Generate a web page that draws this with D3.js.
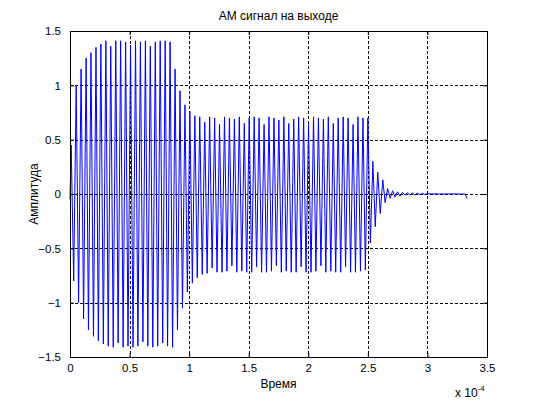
<!DOCTYPE html>
<html>
<head>
<meta charset="utf-8">
<script src="https://cdn.jsdelivr.net/npm/d3@7"></script>
<style>
  body { margin: 0; background: #fff; }
  svg { display: block; font-family: "Liberation Sans", Arial, sans-serif; }
</style>
</head>
<body>
<svg width="538" height="403"></svg>
<script>
// turning points of the output signal, [time in microseconds, amplitude]
var onsetPeaks = [
  [0, -0.05], [1.0, 0.45], [3.1, -0.80], [5.2, 1.0], [7.2, -1.0], [9.3, 1.15],
  [11.4, -1.15], [13.5, 1.25], [15.5, -1.25], [17.6, 1.30], [19.7, -1.31],
  [21.8, 1.35], [23.8, -1.35], [25.9, 1.38], [28.0, -1.38]
];

var highPeaks = [
  [30.1, 1.41], [32.1, -1.40], [34.2, 1.36], [36.3, -1.41], [38.4, 1.41], [40.4, -1.37],
  [42.5, 1.41], [44.6, -1.41], [46.7, 1.40], [48.7, -1.40], [50.8, 1.37], [52.9, -1.41],
  [55.0, 1.41], [57.0, -1.40], [59.1, 1.40], [61.2, -1.36], [63.3, 1.41], [65.3, -1.40],
  [67.4, 1.36], [69.5, -1.41], [71.6, 1.40], [73.6, -1.40], [75.7, 1.41], [77.8, -1.37],
  [79.9, 1.41], [81.9, -1.40], [84.0, 1.40], [86.1, -1.41]
];

var dropPeaks = [
  [88.2, 1.15], [90.2, -1.25], [92.3, 0.95], [94.4, -1.05], [96.5, 0.82], [98.5, -0.90],
  [100.6, 0.76], [102.7, -0.82], [104.8, 0.72], [106.8, -0.77]
];

var lowPeaks = [
  [108.9, 0.71], [111.0, -0.74], [113.1, 0.66], [115.1, -0.73], [117.2, 0.71], [119.3, -0.68],
  [121.4, 0.70], [123.4, -0.72], [125.5, 0.64], [127.6, -0.72], [129.7, 0.71], [131.7, -0.71],
  [133.8, 0.70], [135.9, -0.66], [138.0, 0.69], [140.0, -0.72], [142.1, 0.71], [144.2, -0.71],
  [146.3, 0.65], [148.3, -0.72], [150.4, 0.70], [152.5, -0.72], [154.6, 0.71], [156.6, -0.67],
  [158.7, 0.70], [160.8, -0.72], [162.9, 0.64], [164.9, -0.72], [167.0, 0.71], [169.1, -0.71],
  [171.2, 0.70], [173.2, -0.66], [175.3, 0.68], [177.4, -0.72], [179.5, 0.71], [181.5, -0.71],
  [183.6, 0.65], [185.7, -0.72], [187.8, 0.69], [189.8, -0.72], [191.9, 0.71], [194.0, -0.67],
  [196.1, 0.70], [198.1, -0.72], [200.2, 0.64], [202.3, -0.72], [204.4, 0.71], [206.4, -0.71],
  [208.5, 0.70], [210.6, -0.66], [212.7, 0.69], [214.7, -0.72], [216.8, 0.71], [218.9, -0.71],
  [221.0, 0.65], [223.0, -0.72], [225.1, 0.70], [227.2, -0.72], [229.3, 0.71], [231.3, -0.67],
  [233.4, 0.70], [235.5, -0.72], [237.6, 0.64], [239.6, -0.72], [241.7, 0.71], [243.8, -0.71],
  [245.9, 0.70], [247.9, -0.70], [250.0, 0.70]
];

var tailPeaks = [
  [252.1, -0.45], [254.2, 0.30], [256.2, -0.30], [258.3, 0.20], [260.4, -0.18], [262.5, 0.13],
  [264.5, -0.08], [266.6, 0.05], [268.7, -0.04], [270.8, 0.03], [272.8, -0.03], [274.9, 0.02],
  [277.0, -0.02], [279.1, 0.015], [281.1, -0.01], [283.2, 0.012], [285.3, -0.01], [287.4, 0.01],
  [289.4, -0.008], [291.5, 0.008], [293.6, -0.006], [295.7, 0.005], [297.7, -0.004], [299.8, 0.002],
  [310.0, 0], [320.0, 0.001], [331.5, 0], [333.2, -0.04]
];

var xTicks = [0, 0.5e-4, 1e-4, 1.5e-4, 2e-4, 2.5e-4, 3e-4, 3.5e-4];
var yTicks = [-1.5, -1, -0.5, 0, 0.5, 1, 1.5];

var titleText = "АМ сигнал на выходе",
    xLabel = "Время",
    yLabel = "Амплитуда";

var svg = d3.select("svg"),
    plotL = 70, plotR = 487, plotT = 31, plotB = 357;

var x = d3.scaleLinear().domain([0, 3.5e-4]).range([plotL, plotR]);
var y = d3.scaleLinear().domain([-1.5, 1.5]).range([plotB, plotT]);

var signal = onsetPeaks.concat(highPeaks, dropPeaks, lowPeaks, tailPeaks);

// grid
var grid = svg.append("g")
    .attr("stroke", "#000")
    .attr("stroke-width", 1)
    .attr("stroke-dasharray", "3,2")
    .attr("shape-rendering", "crispEdges");

grid.selectAll(".gx")
    .data(xTicks.slice(1, -1))
    .enter().append("line")
    .attr("x1", function (d) { return Math.round(x(d)) + 0.5; })
    .attr("x2", function (d) { return Math.round(x(d)) + 0.5; })
    .attr("y1", plotT)
    .attr("y2", plotB);

grid.selectAll(".gy")
    .data(yTicks.slice(1, -1))
    .enter().append("line")
    .attr("y1", function (d) { return Math.round(y(d)) + 0.5; })
    .attr("y2", function (d) { return Math.round(y(d)) + 0.5; })
    .attr("x1", plotL)
    .attr("x2", plotR);

// the signal
var line = d3.line()
    .x(function (d) { return x(d[0] * 1e-6); })
    .y(function (d) { return y(d[1]); });

svg.append("path")
    .datum(signal)
    .attr("fill", "none")
    .attr("stroke", "#0000ff")
    .attr("stroke-width", 1)
    .attr("d", line);

// axes, ticks pointing inward on all four sides
var fmtX = function (d) { return d3.format("~g")(+(d / 1e-4).toFixed(2)); };

svg.append("g")
    .attr("transform", "translate(0," + plotB + ")")
    .call(d3.axisBottom(x).tickValues(xTicks).tickSizeInner(-4).tickSizeOuter(0).tickPadding(7).tickFormat(fmtX));

svg.append("g")
    .attr("transform", "translate(0," + plotT + ")")
    .call(d3.axisTop(x).tickValues(xTicks).tickSizeInner(-4).tickSizeOuter(0).tickFormat(""));

svg.append("g")
    .attr("transform", "translate(" + plotL + ",0)")
    .call(d3.axisLeft(y).tickValues(yTicks).tickSizeInner(-4).tickSizeOuter(0).tickPadding(9).tickFormat(d3.format("~g")));

svg.append("g")
    .attr("transform", "translate(" + plotR + ",0)")
    .call(d3.axisRight(y).tickValues(yTicks).tickSizeInner(-4).tickSizeOuter(0).tickFormat(""));

svg.selectAll(".domain").remove();
svg.selectAll(".tick text")
    .attr("font-size", 11.5)
    .attr("font-family", "Liberation Sans, Arial, sans-serif")
    .attr("fill", "#000");

svg.append("rect")
    .attr("x", plotL + 0.5)
    .attr("y", plotT + 0.5)
    .attr("width", plotR - plotL)
    .attr("height", plotB - plotT)
    .attr("fill", "none")
    .attr("stroke", "#000")
    .attr("shape-rendering", "crispEdges");

// labels
svg.append("text")
    .attr("x", (plotL + plotR) / 2)
    .attr("y", 20)
    .attr("text-anchor", "middle")
    .attr("font-size", 12)
    .text(titleText);

svg.append("text")
    .attr("x", (plotL + plotR) / 2)
    .attr("y", 388)
    .attr("text-anchor", "middle")
    .attr("font-size", 12)
    .text(xLabel);

svg.append("text")
    .attr("transform", "translate(38," + (plotT + plotB) / 2 + ") rotate(-90)")
    .attr("text-anchor", "middle")
    .attr("font-size", 12)
    .text(yLabel);

var expo = svg.append("text")
    .attr("x", 455)
    .attr("y", 397)
    .attr("font-size", 12)
    .text("x 10");
expo.append("tspan")
    .attr("dy", -6)
    .attr("font-size", 8)
    .text("-4");
</script>
</body>
</html>
